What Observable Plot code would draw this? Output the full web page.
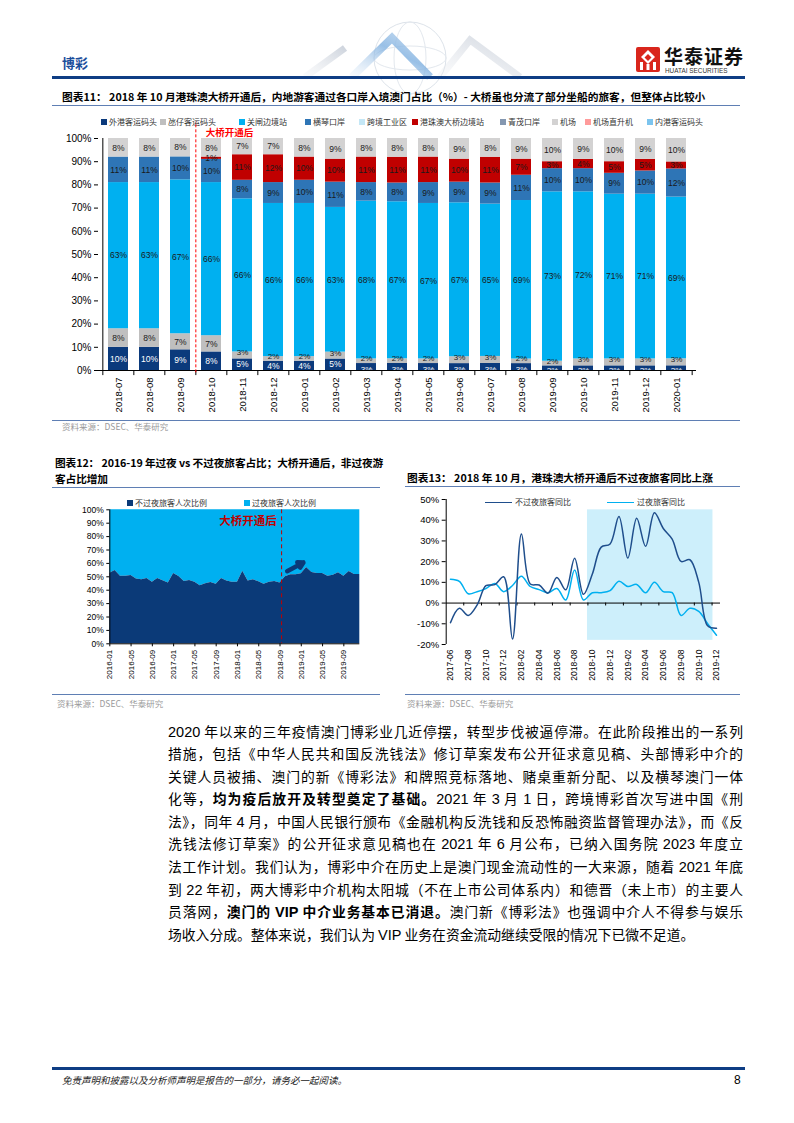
<!DOCTYPE html>
<html><head><meta charset="utf-8">
<script src="https://cdn.jsdelivr.net/npm/d3@7"></script>
<script src="https://cdn.jsdelivr.net/npm/@observablehq/plot@0.6"></script>
<style>
body{margin:0;background:#fff;}
#page{position:relative;width:794px;height:1123px;overflow:hidden;background:#fff;font-family:"Noto Sans CJK SC","Liberation Sans",sans-serif;color:#000;}
.abs{position:absolute;}
.title{font-weight:bold;font-size:10.7px;line-height:16px;white-space:nowrap;}
.hline{position:absolute;height:1.5px;background:#5F7FB4;}
.src{position:absolute;font-size:8.5px;color:#9a9a9a;line-height:10px;white-space:nowrap;}
.lg{position:absolute;font-size:8px;line-height:12px;color:#333;white-space:nowrap;letter-spacing:0px;}
.lg i{display:inline-block;width:6px;height:6px;margin-right:2px;vertical-align:0px;}
.body{position:absolute;left:168px;width:575px;font-size:13.8px;}
.body div{height:22.56px;line-height:22.56px;text-align:justify;text-align-last:justify;}
.body div.last{text-align-last:left;}
.num{font-family:"Liberation Sans Narrow","Liberation Sans",sans-serif;font-size:14.5px;}
svg{overflow:visible;}
</style></head>
<body><div id="page">

<!-- header -->
<svg class="abs" style="left:0;top:0" width="794" height="80">
  <defs>
    <linearGradient id="gb" x1="0" y1="1" x2="1" y2="0"><stop offset="0" stop-color="#cfe0f2" stop-opacity="0.2"/><stop offset="0.6" stop-color="#7fb0e0"/><stop offset="1" stop-color="#bcd5ee"/></linearGradient>
    <linearGradient id="gg" x1="0" y1="1" x2="1" y2="0"><stop offset="0" stop-color="#e6e9ee" stop-opacity="0.2"/><stop offset="1" stop-color="#cfd5de"/></linearGradient>
  </defs>
  <circle cx="410" cy="58" r="36" fill="none" stroke="#dde3ea" stroke-width="1"/>
  <ellipse cx="410" cy="58" rx="16" ry="36" fill="none" stroke="#e3e8ee" stroke-width="1"/>
  <ellipse cx="410" cy="58" rx="36" ry="12" fill="none" stroke="#e3e8ee" stroke-width="1"/>
  <polyline points="305,77 345,48" fill="none" stroke="url(#gg)" stroke-width="7"/>
  <polyline points="352,77 392,38 430,77" fill="none" stroke="url(#gb)" stroke-width="8" opacity="0.8"/>
  <polyline points="440,77 470,40 520,77" fill="none" stroke="url(#gg)" stroke-width="7"/>
  <rect x="52" y="76" width="693" height="3" fill="#0E3D84"/>
  <g transform="translate(636,47)">
    <rect width="24" height="25" rx="2" fill="#D9261C"/>
    <path d="M12,3 L19,10 L12,17 L5,10 Z" fill="#fff"/>
    <path d="M12,7 L15.5,10.5 L12,14 L8.5,10.5 Z" fill="#D9261C"/>
    <rect x="4" y="15" width="3" height="8" fill="#fff"/>
    <rect x="17" y="15" width="3" height="8" fill="#fff"/>
    <rect x="10.5" y="17" width="3" height="6" fill="#fff"/>
  </g>
</svg>
<div class="abs" style="left:62px;top:54px;font-size:13px;font-weight:bold;color:#1B4E9B;line-height:18px;">博彩</div>
<div class="abs" style="left:664px;top:44px;font-size:19px;font-weight:bold;line-height:24px;letter-spacing:1px;color:#111;">华泰证券</div>
<div class="abs" style="left:665px;top:67px;font-size:6.4px;line-height:8px;color:#333;font-family:'Liberation Sans',sans-serif;">HUATAI SECURITIES</div>

<!-- chart 11 -->
<div class="abs title" style="left:62px;top:89px;">图表11：&nbsp;2018 年 10 月港珠澳大桥开通后，内地游客通过各口岸入境澳门占比（%）- 大桥虽也分流了部分坐船的旅客，但整体占比较小</div>
<div class="hline" style="left:52px;top:104.5px;width:688px;"></div>
<div id="legend11"></div>
<div id="c11" class="abs" style="left:50px;top:125px;"></div>
<div class="hline" style="left:52px;top:419.5px;width:688px;"></div>
<div class="src" style="left:62px;top:421px;">资料来源：DSEC、华泰研究</div>

<!-- chart 12 -->
<div class="abs title" style="left:55px;top:454.5px;line-height:16.3px;letter-spacing:-0.1px;">图表12：&nbsp;2016-19 年过夜 vs 不过夜旅客占比；大桥开通后，非过夜游<br>客占比增加</div>
<div class="hline" style="left:52px;top:486.5px;width:328px;"></div>
<div id="c12" class="abs" style="left:50px;top:495px;"></div>
<div class="lg" style="left:127px;top:497px;"><i style="background:#0B3A78"></i>不过夜旅客人次比例</div>
<div class="lg" style="left:244px;top:497px;"><i style="background:#00B0F0"></i>过夜旅客人次比例</div>
<div class="hline" style="left:52px;top:693.5px;width:328px;"></div>
<div class="src" style="left:57px;top:698px;">资料来源：DSEC、华泰研究</div>

<!-- chart 13 -->
<div class="abs title" style="left:407px;top:470px;">图表13：&nbsp;2018 年 10 月，港珠澳大桥开通后不过夜旅客同比上涨</div>
<div class="hline" style="left:405px;top:485.5px;width:335px;"></div>
<div id="c13" class="abs" style="left:395px;top:490px;"></div>
<div class="abs" style="left:485px;top:501.5px;width:27px;height:1.5px;background:#1F4E8C;"></div>
<div class="lg" style="left:515px;top:496px;">不过夜旅客同比</div>
<div class="abs" style="left:607px;top:501.5px;width:27px;height:1.5px;background:#00B0F0;"></div>
<div class="lg" style="left:637px;top:496px;">过夜旅客同比</div>
<div class="hline" style="left:405px;top:693.5px;width:335px;"></div>
<div class="src" style="left:407px;top:698px;">资料来源：DSEC、华泰研究</div>

<!-- body text -->
<div class="body" style="top:719.7px;">
<div><span class="num">2020</span> 年以来的三年疫情澳门博彩业几近停摆，转型步伐被逼停滞。在此阶段推出的一系列</div>
<div>措施，包括《中华人民共和国反洗钱法》修订草案发布公开征求意见稿、头部博彩中介的</div>
<div>关键人员被捕、澳门的新《博彩法》和牌照竞标落地、赌桌重新分配、以及横琴澳门一体</div>
<div>化等，<b>均为疫后放开及转型奠定了基础。</b><span class="num">2021</span> 年 <span class="num">3</span> 月 <span class="num">1</span> 日，跨境博彩首次写进中国《刑</div>
<div>法》，同年 <span class="num">4</span> 月，中国人民银行颁布《金融机构反洗钱和反恐怖融资监督管理办法》，而《反</div>
<div>洗钱法修订草案》的公开征求意见稿也在 <span class="num">2021</span> 年 <span class="num">6</span> 月公布，已纳入国务院 <span class="num">2023</span> 年度立</div>
<div>法工作计划。我们认为，博彩中介在历史上是澳门现金流动性的一大来源，随着 <span class="num">2021</span> 年底</div>
<div>到 <span class="num">22</span> 年初，两大博彩中介机构太阳城（不在上市公司体系内）和德晋（未上市）的主要人</div>
<div>员落网，<b>澳门的 <span class="num">VIP</span> 中介业务基本已消退。</b>澳门新《博彩法》也强调中介人不得参与娱乐</div>
<div class="last">场收入分成。整体来说，我们认为 <span class="num">VIP</span> 业务在资金流动继续受限的情况下已微不足道。</div>
</div>

<!-- footer -->
<div class="abs" style="left:52px;top:1066.5px;width:693px;height:3px;background:#0E3D84;"></div>
<div class="abs" style="left:62px;top:1073px;font-size:9.5px;line-height:14px;font-style:italic;color:#222;">免责声明和披露以及分析师声明是报告的一部分，请务必一起阅读。</div>
<div class="abs" style="left:734px;top:1072px;font-size:12px;line-height:16px;font-family:'Liberation Sans Narrow','Liberation Sans',sans-serif;">8</div>

</div>
<script>
const latin = "'Liberation Sans', Arial, sans-serif";
const cjk = "'Noto Sans CJK SC', sans-serif";

// ---------------- Chart 11 data ----------------
const months11 = ["2018-07","2018-08","2018-09","2018-10","2018-11","2018-12","2019-01","2019-02","2019-03","2019-04","2019-05","2019-06","2019-07","2019-08","2019-09","2019-10","2019-11","2019-12","2020-01"];
const legendNames11 = ["外港客运码头","氹仔客运码头","关闸边境站","横琴口岸","跨境工业区","港珠澳大桥边境站","青茂口岸","机场","机场直升机","内港客运码头"];
const legendColors11 = ["#0B3A7C","#BFBFBF","#00B0F0","#2E75B6","#C4E7F6","#C00000","#8497B0","#D3D2D2","#FF9B9B","#7CC4EE"];
const outerHarbour = [10,10,9,8,5,4,4,5,3,3,3,3,3,3,2,2,2,2,2];
const taipaFerry   = [8,8,7,7,3,2,2,3,2,2,2,3,3,2,2,3,3,3,3];
const borderGate   = [63,63,67,66,66,66,66,63,68,67,67,67,65,69,73,72,71,71,69];
const hengqin      = [11,11,10,10,8,9,10,11,8,8,9,9,9,11,10,10,9,10,12];
const hzmbPort     = [0,0,0,1,11,12,10,10,11,11,11,10,11,7,3,4,5,5,3];
const airport      = [8,8,8,8,7,7,8,9,8,8,8,9,8,9,10,9,10,9,10];
const bridgeMonth11 = "2018-10";
const bridgeLabel = "大桥开通后";

const stackSeries11 = [
  ["外港客运码头", outerHarbour],
  ["氹仔客运码头", taipaFerry],
  ["关闸边境站", borderGate],
  ["横琴口岸", hengqin],
  ["港珠澳大桥边境站", hzmbPort],
  ["机场", airport]
];
const order11 = stackSeries11.map(d => d[0]);
const rows11 = stackSeries11.flatMap(([name, vals]) => vals.map((v, i) => ({month: months11[i], series: name, value: v})));

// legend 11
const legendX11 = [101,160,239,305,359,412,500,552,585,647];
const lg = document.getElementById("legend11");
legendNames11.forEach((n, i) => {
  const d = document.createElement("div");
  d.className = "lg";
  d.style.left = legendX11[i] + "px";
  d.style.top = "116px";
  d.innerHTML = `<i style="background:${legendColors11[i]}"></i>${n}`;
  lg.appendChild(d);
});

{
  const W = 670, H = 295, ML = 48, MR = 24, MT = 13, MB = 50;
  const pi = 0.36, po = 0.22;
  const step = (W - ML - MR) / (months11.length - pi + 2 * po);
  const stackOpt = {x: "month", y: "value", z: "series", order: order11, offset: "normalize"};
  const small = d => d.value <= 3;
  const lbl = test => d => test(d) && d.value > 0 ? d.value + "%" : "";
  const chart = Plot.plot({
    width: W, height: H, marginLeft: ML, marginRight: MR, marginTop: MT, marginBottom: MB,
    style: {fontFamily: latin, fontSize: "9.5px", color: "#000", background: "transparent", overflow: "visible"},
    x: {type: "band", domain: months11, paddingInner: pi, paddingOuter: po},
    y: {domain: [0, 1]},
    color: {domain: legendNames11, range: legendColors11},
    marks: [
      Plot.barY(rows11, Plot.stackY({x: "month", y: "value", fill: "series", order: order11, offset: "normalize"})),
      // bottom navy labels (white), nudged down when the segment is thin
      Plot.text(rows11, Plot.stackY({...stackOpt, text: lbl(d => d.series === order11[0] && !small(d)), fill: "#fff", fontSize: 8.5})),
      Plot.text(rows11, Plot.stackY({...stackOpt, text: lbl(d => d.series === order11[0] && small(d)), fill: "#fff", fontSize: 8, dy: 2})),
      // grey labels nudged up when thin
      Plot.text(rows11, Plot.stackY({...stackOpt, text: lbl(d => d.series === order11[1] && !small(d)), fill: "#1a1a1a", fontSize: 8.5})),
      Plot.text(rows11, Plot.stackY({...stackOpt, text: lbl(d => d.series === order11[1] && small(d)), fill: "#1a1a1a", fontSize: 8, dy: -2.5})),
      // remaining series
      Plot.text(rows11, Plot.stackY({...stackOpt, text: lbl(d => d.series !== order11[0] && d.series !== order11[1]), fill: "#1a1a1a", fontSize: 8.5})),
      Plot.ruleY([0], {stroke: "#000"}),
      Plot.ruleX(months11, {x: d => d, y1: 0, y2: -0.022, dx: -step / 2, stroke: "#000"}),
      Plot.ruleX([months11[months11.length - 1]], {x: d => d, y1: 0, y2: -0.022, dx: step / 2, stroke: "#000"}),
      Plot.axisY({ticks: d3.range(0, 11).map(d => d / 10), tickFormat: d3.format(".0%"), tickSize: 4, tickPadding: 3, label: null, fontSize: 10}),
      Plot.ruleX([months11[0]], {x: d => d, y1: 0, y2: 1, dx: -step / 2, stroke: "#000"}),
      Plot.axisX({tickRotate: -90, tickSize: 0, tickPadding: 7, label: null, fontSize: 9.5}),
      Plot.ruleX([bridgeMonth11], {x: d => d, y1: -0.01, y2: 1.07, dx: -step / 2, stroke: "#FF0000", strokeDasharray: "3,2", strokeWidth: 1}),
      Plot.text([bridgeLabel], {x: () => bridgeMonth11, y: () => 1.022, text: d => d, textAnchor: "start", dx: -step / 2 + 10, fill: "#FF0000", fontWeight: "bold", fontSize: 9.5, fontFamily: cjk})
    ]
  });
  document.getElementById("c11").appendChild(chart);
}

// ---------------- Chart 12 data ----------------
const months12 = ["2016-01","2016-02","2016-03","2016-04","2016-05","2016-06","2016-07","2016-08","2016-09","2016-10","2016-11","2016-12",
  "2017-01","2017-02","2017-03","2017-04","2017-05","2017-06","2017-07","2017-08","2017-09","2017-10","2017-11","2017-12",
  "2018-01","2018-02","2018-03","2018-04","2018-05","2018-06","2018-07","2018-08","2018-09","2018-10","2018-11","2018-12",
  "2019-01","2019-02","2019-03","2019-04","2019-05","2019-06","2019-07","2019-08","2019-09","2019-10","2019-11","2019-12"];
const nonOvernightShare = [52.7,54.7,50.5,50.5,51.0,48.3,47.8,48.8,46.0,48.8,47.0,45.3,
  52.5,50.2,46.5,47.3,46.0,43.3,44.8,45.8,44.5,48.8,46.8,46.0,
  46.0,54.2,46.8,47.8,46.3,44.5,46.0,46.5,45.3,50.0,51.5,51.5,
  52.2,57.0,53.2,52.5,52.5,50.5,51.2,53.0,50.5,54.0,51.7,51.7];
const tickLabels12 = ["2016-01","2016-05","2016-09","2017-01","2017-05","2017-09","2018-01","2018-05","2018-09","2019-01","2019-05","2019-09"];
const bridgeIndex12 = 32.3;       // dashed marker between 2018-09 and 2018-10
const bridgeLabelPos12 = [26, 0.915];
const arrow12 = {x1: 33.35, y1: 0.542, x2: 36.4, y2: 0.607};

{
  const rows = months12.map((m, i) => ({i, m, v: nonOvernightShare[i] / 100}));
  const tickIdx = tickLabels12.map(t => months12.indexOf(t));
  const chart = Plot.plot({
    width: 330, height: 195, marginLeft: 59.3, marginRight: 20.7, marginTop: 14.3, marginBottom: 46.7,
    style: {fontFamily: latin, fontSize: "8.5px", color: "#000", background: "transparent", overflow: "visible"},
    x: {type: "linear", domain: [0, months12.length - 1]},
    y: {domain: [0, 1]},
    marks: [
      Plot.areaY(rows, {x: "i", y1: () => 1, y2: "v", fill: "#00B0F0"}),
      Plot.areaY(rows, {x: "i", y1: () => 0, y2: "v", fill: "#0B3A78"}),
      Plot.ruleX([bridgeIndex12], {stroke: "#C00000", strokeDasharray: "4,3", strokeWidth: 1}),
      Plot.text([bridgeLabel], {x: () => bridgeLabelPos12[0], y: () => bridgeLabelPos12[1], text: d => d, fill: "#C00000", fontWeight: "bold", fontSize: 11.5, fontFamily: cjk}),
      Plot.arrow([arrow12], {x1: "x1", y1: "y1", x2: "x2", y2: "y2", stroke: "#0B3A78", strokeWidth: 4.5, headLength: 7, bend: 0}),
      Plot.ruleY([0], {stroke: "#000"}),
      Plot.ruleX([0], {stroke: "#000"}),
      Plot.axisY({ticks: d3.range(0, 11).map(d => d / 10), tickFormat: d3.format(".0%"), tickSize: 3, tickPadding: 3, label: null, fontSize: 8.5}),
      Plot.axisX({ticks: tickIdx, tickFormat: i => months12[i], tickRotate: -90, tickSize: 3, tickPadding: 3, label: null, fontSize: 8})
    ]
  });
  document.getElementById("c12").appendChild(chart);
}

// ---------------- Chart 13 data ----------------
const months13 = ["2017-06","2017-07","2017-08","2017-09","2017-10","2017-11","2017-12",
  "2018-01","2018-02","2018-03","2018-04","2018-05","2018-06","2018-07","2018-08","2018-09","2018-10","2018-11","2018-12",
  "2019-01","2019-02","2019-03","2019-04","2019-05","2019-06","2019-07","2019-08","2019-09","2019-10","2019-11","2019-12"];
const nonOvernightYoY = [-9.5,-2.5,-6.0,-1.0,8.4,8.9,12.7,-17.4,33.3,9.2,8.7,4.8,12.4,6.4,21.6,4.2,14.0,27.0,28.5,41.8,21.7,40.9,27.4,43.6,36.0,30.9,20.1,20.9,10.0,-11.0,-12.2];
const overnightYoY    = [11.5,10.5,4.5,5.5,7.0,9.5,5.5,8.5,13.0,8.0,6.5,5.0,7.0,1.5,16.0,1.5,5.0,5.0,6.0,10.5,8.0,9.0,5.0,10.0,5.5,5.0,-6.0,-2.5,-4.0,-10.0,-15.5];
const yTicks13 = [-20,-10,0,10,20,30,40,50];
const shade13 = {x1: 15.45, x2: 29.6, y1: -18, y2: 45};

{
  const rows = months13.map((m, i) => ({i, m, dark: nonOvernightYoY[i], light: overnightYoY[i]}));
  const labelIdx = months13.map((m, i) => i).filter(i => i % 2 === 0);
  const tickMarks = labelIdx.map(i => i + 1.5).filter(v => v < months13.length);
  const chart = Plot.plot({
    width: 345, height: 200, marginLeft: 50.7, marginRight: 20, marginTop: 9, marginBottom: 46,
    style: {fontFamily: latin, fontSize: "9px", color: "#000", background: "transparent", overflow: "visible"},
    x: {type: "linear", domain: [-0.48, months13.length - 1 + 0.45]},
    y: {domain: [-20, 50]},
    marks: [
      Plot.rect([shade13], {x1: "x1", x2: "x2", y1: "y1", y2: "y2", fill: "#CDEFFB"}),
      Plot.ruleY([0], {stroke: "#000"}),
      Plot.ruleX(tickMarks, {y1: 0, y2: -1.4, stroke: "#000"}),
      Plot.line(rows, {x: "i", y: "light", stroke: "#00B0F0", strokeWidth: 1.5, curve: "catmull-rom"}),
      Plot.line(rows, {x: "i", y: "dark", stroke: "#1F4E8C", strokeWidth: 1.5, curve: "catmull-rom"}),
      Plot.ruleX([-0.48], {y1: -20, y2: 50, stroke: "#000"}),
      Plot.axisY({ticks: yTicks13, tickFormat: d => d + "%", tickSize: 4, tickPadding: 3, label: null, fontSize: 9.5}),
      Plot.axisX({ticks: labelIdx, tickFormat: i => months13[i], tickRotate: -90, tickSize: 0, tickPadding: 5, label: null, fontSize: 8.5, anchor: "bottom"})
    ]
  });
  document.getElementById("c13").appendChild(chart);
}
</script>
</body></html>
